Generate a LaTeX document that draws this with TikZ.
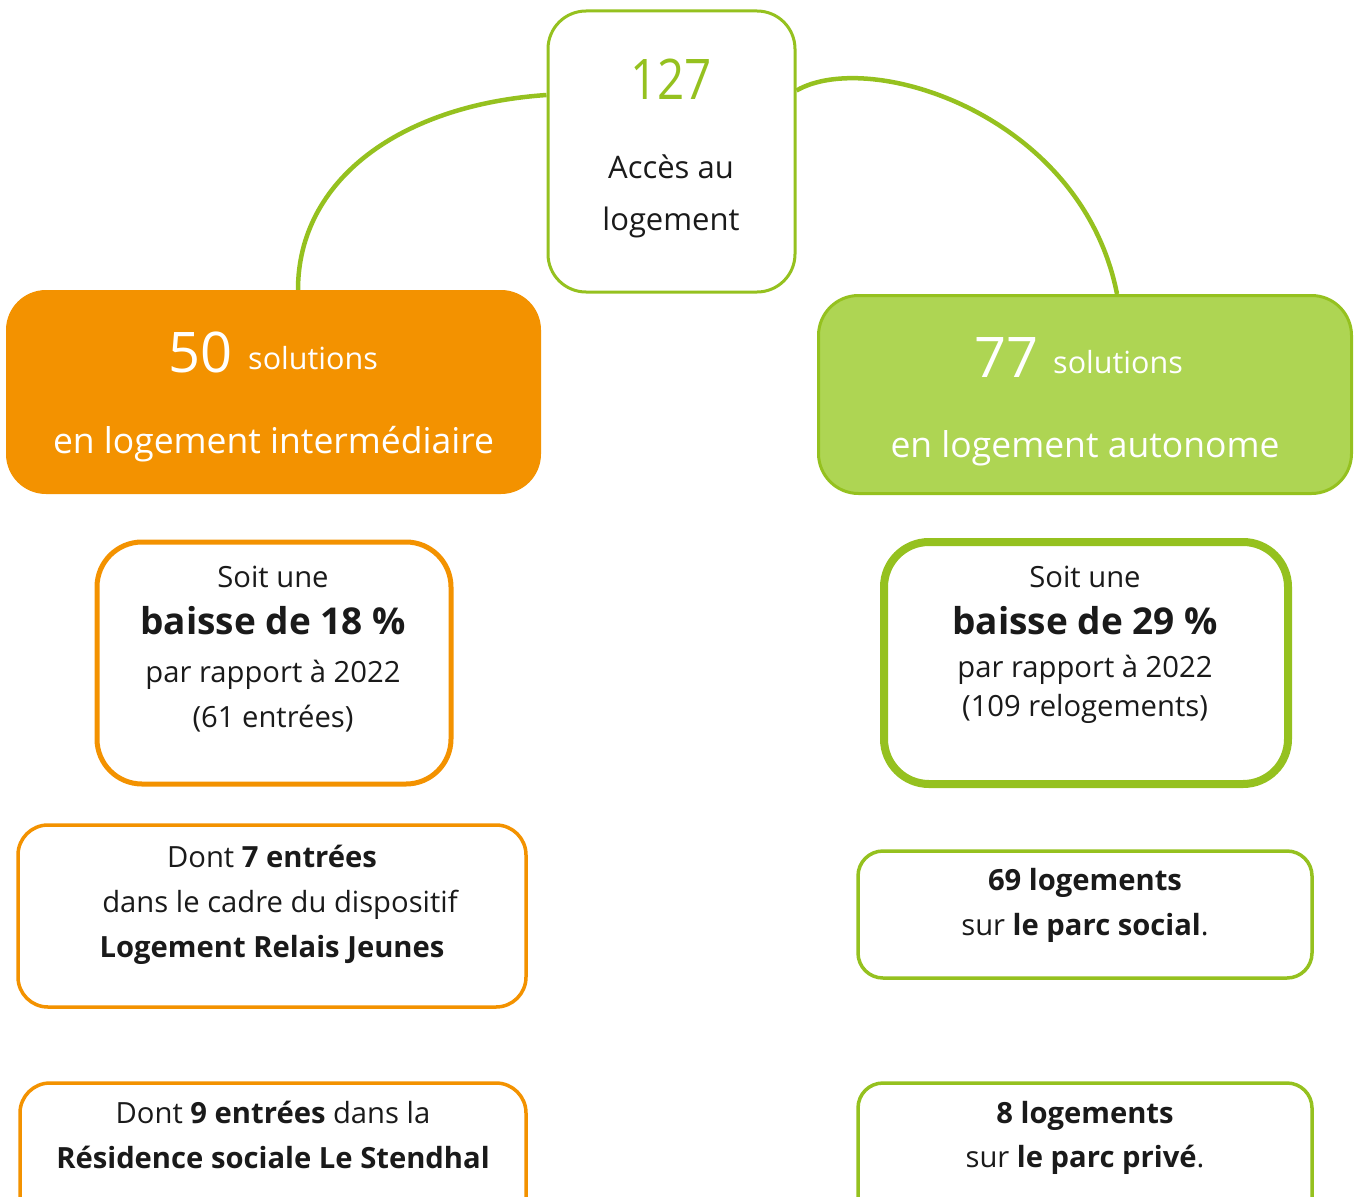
\documentclass[tikz,border=0pt]{standalone}
\usepackage{fontspec}
\setmainfont{Open Sans}
\definecolor{vert}{HTML}{95C11F}
\definecolor{vertclair}{HTML}{AED553}
\definecolor{orangeb}{HTML}{F39200}
\definecolor{texte}{HTML}{1A1A1A}
\begin{document}
\begin{tikzpicture}[x=1pt,y=-1pt,
  boite/.style={draw, rounded corners=#1, inner sep=0pt, fill=white},
  ligne/.style={anchor=base, inner sep=0pt, text=texte, font=\fontsize{29.2}{34}\selectfont},
  grand/.style={anchor=base, inner sep=0pt, text=texte, font=\fontsize{37}{42}\selectfont\bfseries},
  titre/.style={anchor=base, inner sep=0pt, text=white, font=\fontsize{35.5}{42}\selectfont},
  lien/.style={draw=vert, line width=4.5pt}]
\useasboundingbox (0,0) rectangle (1359,1196);

% top box
\node[boite=38, draw=vert, line width=3pt, minimum width=247pt, minimum height=281pt] (top) at (671.5,151.5) {};
\node[anchor=base, inner sep=0pt, text=vert, font=\fontsize{56}{60}\selectfont] (t127) at (671,100) {\scalebox{0.85}[1]{127}};
\node[anchor=base, inner sep=0pt, text=texte, font=\fontsize{31}{36}\selectfont] (tacc) at (671,178) {Accès au};
\node[anchor=base, inner sep=0pt, text=texte, font=\fontsize{31}{36}\selectfont] (tlog) at (671,230) {logement};

% main boxes
\node[boite=40, draw=none, fill=orangeb, minimum width=535pt, minimum height=204pt] (inter) at (273.5,392) {};
\node[boite=40, draw=vert, fill=vertclair, line width=3pt, minimum width=533pt, minimum height=198pt] (auto) at (1085,394.5) {};

% connectors
\draw[lien] ([yshift=56.5pt]top.west) .. controls (400,105) and (298,180) .. ([xshift=24.5pt]inter.north);
\draw[lien] ([yshift=61pt]top.east) .. controls (870,48) and (1082,115) .. ([xshift=32pt]auto.north);

\node[titre, anchor=base east, font=\fontsize{56}{60}\selectfont] (n50) at (233,372) {50};
\node[titre, anchor=base west, font=\fontsize{30.5}{36}\selectfont] (s50) at (248,369) {solutions};
\node[titre] (ti) at (273.5,453) {en logement intermédiaire};
\node[titre, anchor=base east, font=\fontsize{56}{60}\selectfont] (n77) at (1039,377) {77};
\node[titre, anchor=base west, font=\fontsize{30.5}{36}\selectfont] (s77) at (1053,373) {solutions};
\node[titre] (ta) at (1085,457) {en logement autonome};

% stat boxes
\node[boite=45, draw=orangeb, line width=5pt, minimum width=354pt, minimum height=242pt] (sl) at (274,663) {};
\node[ligne] (sl1) at (273,587) {Soit une};
\node[grand] (sl2) at (273,634) {baisse de 18 \%};
\node[ligne] (sl3) at (273,682) {par rapport à 2022};
\node[ligne] (sl4) at (273,727) {(61 entrées)};

\node[boite=45, draw=vert, line width=8pt, minimum width=404pt, minimum height=242pt] (sr) at (1086,663) {};
\node[ligne] (sr1) at (1085,587) {Soit une};
\node[grand] (sr2) at (1085,634) {baisse de 29 \%};
\node[ligne] (sr3) at (1085,677) {par rapport à 2022};
\node[ligne] (sr4) at (1085,716) {(109 relogements)};

% detail boxes left
\node[boite=30, draw=orangeb, line width=3.5pt, minimum width=508pt, minimum height=182pt] (dl1) at (272,916) {};
\node[ligne] (dl1a) at (272,867) {Dont \textbf{7 entrées}};
\node[ligne] (dl1b) at (280,912) {dans le cadre du dispositif};
\node[ligne] (dl1c) at (272,957) {\textbf{Logement Relais Jeunes}};

\node[boite=30, draw=orangeb, line width=3.5pt, minimum width=506pt, minimum height=160pt] (dl2) at (273,1163) {};
\node[ligne] (dl2a) at (273,1123) {Dont \textbf{9 entrées} dans la};
\node[ligne] (dl2b) at (273,1168) {\textbf{Résidence sociale Le Stendhal}};

% detail boxes right
\node[boite=25, draw=vert, line width=3.5pt, minimum width=454pt, minimum height=127pt] (dr1) at (1085,914.5) {};
\node[ligne] (dr1a) at (1085,890) {\textbf{69 logements}};
\node[ligne] (dr1b) at (1085,935) {sur \textbf{le parc social}.};

\node[boite=25, draw=vert, line width=3.5pt, minimum width=454pt, minimum height=160pt] (dr2) at (1085,1163) {};
\node[ligne] (dr2a) at (1085,1123) {\textbf{8 logements}};
\node[ligne] (dr2b) at (1085,1167) {sur \textbf{le parc privé}.};
\end{tikzpicture}
\end{document}
